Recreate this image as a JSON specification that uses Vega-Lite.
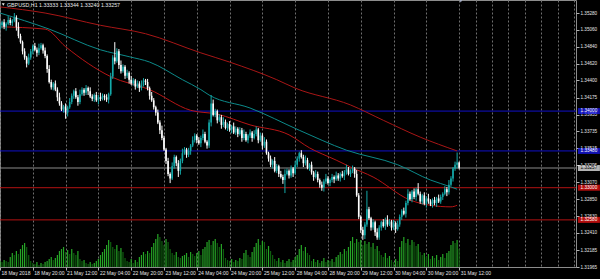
{
"$schema":"https://vega.github.io/schema/vega-lite/v6.json",
"width":576,"height":267,"autosize":"none",
"padding":{"left":0,"top":0,"right":24,"bottom":12},
"background":"#000000",
"config":{"view":{"stroke":"#8c8c8c","strokeWidth":1},"font":"Liberation Sans",
"axis":{"grid":true,"gridColor":"#6e6e6e","gridDash":[2,2],"gridWidth":1,"domain":false,"ticks":true,"tickSize":3,"tickColor":"#b0b0b0","labelColor":"#e6e6e6","labelFont":"Liberation Sans","labelBound":false,"labelOverlap":false,"labelFlush":false},
"axisX":{"labelFontSize":5,"labelAlign":"left","labelBaseline":"top","labelPadding":0,"labelOffset":1},
"axisY":{"labelFontSize":4.6,"labelPadding":1,"labelAlign":"left","labelBaseline":"middle"}},
"datasets":{
"bars":[
{"i":0,"o":1.3508,"h":1.3515,"l":1.3506,"c":1.3512,"v":600},
{"i":1,"o":1.3512,"h":1.3518,"l":1.3508,"c":1.3516,"v":500},
{"i":2,"o":1.3516,"h":1.3520,"l":1.3507,"c":1.3510,"v":700},
{"i":3,"o":1.3510,"h":1.3516,"l":1.3505,"c":1.3514,"v":600},
{"i":4,"o":1.3514,"h":1.3524,"l":1.3512,"c":1.3519,"v":500},
{"i":5,"o":1.3519,"h":1.3522,"l":1.3512,"c":1.3515,"v":1000},
{"i":6,"o":1.3515,"h":1.3520,"l":1.3511,"c":1.3518,"v":1400},
{"i":7,"o":1.3518,"h":1.3528,"l":1.3516,"c":1.3522,"v":1200},
{"i":8,"o":1.3522,"h":1.3525,"l":1.3505,"c":1.3510,"v":1600},
{"i":9,"o":1.3510,"h":1.3516,"l":1.3495,"c":1.3498,"v":1300},
{"i":10,"o":1.3498,"h":1.3501,"l":1.3488,"c":1.3490,"v":1800},
{"i":11,"o":1.3490,"h":1.3492,"l":1.3474,"c":1.3478,"v":2200},
{"i":12,"o":1.3478,"h":1.3482,"l":1.3467,"c":1.3470,"v":2400},
{"i":13,"o":1.3470,"h":1.3472,"l":1.3457,"c":1.3462,"v":2000},
{"i":14,"o":1.3462,"h":1.3475,"l":1.3460,"c":1.3470,"v":1200},
{"i":15,"o":1.3470,"h":1.3481,"l":1.3467,"c":1.3478,"v":600},
{"i":16,"o":1.3478,"h":1.3487,"l":1.3474,"c":1.3485,"v":400},
{"i":17,"o":1.3485,"h":1.3489,"l":1.3478,"c":1.3480,"v":300},
{"i":18,"o":1.3480,"h":1.3483,"l":1.3471,"c":1.3476,"v":500},
{"i":19,"o":1.3476,"h":1.3488,"l":1.3473,"c":1.3482,"v":200},
{"i":20,"o":1.3482,"h":1.3489,"l":1.3480,"c":1.3486,"v":400},
{"i":21,"o":1.3486,"h":1.3488,"l":1.3475,"c":1.3479,"v":300},
{"i":22,"o":1.3479,"h":1.3483,"l":1.3469,"c":1.3472,"v":500},
{"i":23,"o":1.3472,"h":1.3474,"l":1.3450,"c":1.3455,"v":600},
{"i":24,"o":1.3455,"h":1.3460,"l":1.3436,"c":1.3438,"v":800},
{"i":25,"o":1.3438,"h":1.3441,"l":1.3428,"c":1.3431,"v":1000},
{"i":26,"o":1.3431,"h":1.3438,"l":1.3427,"c":1.3436,"v":700},
{"i":27,"o":1.3436,"h":1.3440,"l":1.3426,"c":1.3428,"v":900},
{"i":28,"o":1.3428,"h":1.3431,"l":1.3413,"c":1.3418,"v":1200},
{"i":29,"o":1.3418,"h":1.3424,"l":1.3407,"c":1.3410,"v":1600},
{"i":30,"o":1.3410,"h":1.3413,"l":1.3400,"c":1.3402,"v":1800},
{"i":31,"o":1.3402,"h":1.3408,"l":1.3398,"c":1.3406,"v":2000},
{"i":32,"o":1.3406,"h":1.3410,"l":1.3390,"c":1.3398,"v":1500},
{"i":33,"o":1.3398,"h":1.3407,"l":1.3393,"c":1.3405,"v":1700},
{"i":34,"o":1.3405,"h":1.3417,"l":1.3403,"c":1.3412,"v":1300},
{"i":35,"o":1.3412,"h":1.3423,"l":1.3409,"c":1.3420,"v":1800},
{"i":36,"o":1.3420,"h":1.3428,"l":1.3416,"c":1.3426,"v":1400},
{"i":37,"o":1.3426,"h":1.3430,"l":1.3416,"c":1.3418,"v":1200},
{"i":38,"o":1.3418,"h":1.3421,"l":1.3407,"c":1.3412,"v":1600},
{"i":39,"o":1.3412,"h":1.3428,"l":1.3409,"c":1.3422,"v":800},
{"i":40,"o":1.3422,"h":1.3431,"l":1.3420,"c":1.3428,"v":600},
{"i":41,"o":1.3428,"h":1.3430,"l":1.3420,"c":1.3424,"v":700},
{"i":42,"o":1.3424,"h":1.3434,"l":1.3421,"c":1.3430,"v":400},
{"i":43,"o":1.3430,"h":1.3432,"l":1.3421,"c":1.3426,"v":300},
{"i":44,"o":1.3426,"h":1.3431,"l":1.3417,"c":1.3419,"v":500},
{"i":45,"o":1.3419,"h":1.3422,"l":1.3413,"c":1.3416,"v":300},
{"i":46,"o":1.3416,"h":1.3423,"l":1.3412,"c":1.3421,"v":400},
{"i":47,"o":1.3421,"h":1.3425,"l":1.3412,"c":1.3414,"v":600},
{"i":48,"o":1.3414,"h":1.3421,"l":1.3409,"c":1.3418,"v":800},
{"i":49,"o":1.3418,"h":1.3424,"l":1.3413,"c":1.3416,"v":1200},
{"i":50,"o":1.3416,"h":1.3423,"l":1.3414,"c":1.3420,"v":1500},
{"i":51,"o":1.3420,"h":1.3422,"l":1.3414,"c":1.3418,"v":1800},
{"i":52,"o":1.3418,"h":1.3422,"l":1.3412,"c":1.3415,"v":2200},
{"i":53,"o":1.3415,"h":1.3424,"l":1.3410,"c":1.3422,"v":2700},
{"i":54,"o":1.3422,"h":1.3450,"l":1.3420,"c":1.3445,"v":2500},
{"i":55,"o":1.3445,"h":1.3473,"l":1.3442,"c":1.3470,"v":2000},
{"i":56,"o":1.3470,"h":1.3490,"l":1.3461,"c":1.3465,"v":1800},
{"i":57,"o":1.3465,"h":1.3482,"l":1.3463,"c":1.3478,"v":2200},
{"i":58,"o":1.3478,"h":1.3481,"l":1.3455,"c":1.3460,"v":1600},
{"i":59,"o":1.3460,"h":1.3466,"l":1.3449,"c":1.3452,"v":1900},
{"i":60,"o":1.3452,"h":1.3461,"l":1.3450,"c":1.3458,"v":1500},
{"i":61,"o":1.3458,"h":1.3460,"l":1.3442,"c":1.3446,"v":900},
{"i":62,"o":1.3446,"h":1.3454,"l":1.3443,"c":1.3450,"v":600},
{"i":63,"o":1.3450,"h":1.3452,"l":1.3436,"c":1.3441,"v":500},
{"i":64,"o":1.3441,"h":1.3446,"l":1.3434,"c":1.3436,"v":800},
{"i":65,"o":1.3436,"h":1.3443,"l":1.3433,"c":1.3440,"v":400},
{"i":66,"o":1.3440,"h":1.3442,"l":1.3428,"c":1.3432,"v":700},
{"i":67,"o":1.3432,"h":1.3440,"l":1.3430,"c":1.3436,"v":500},
{"i":68,"o":1.3436,"h":1.3439,"l":1.3425,"c":1.3430,"v":1000},
{"i":69,"o":1.3430,"h":1.3440,"l":1.3427,"c":1.3434,"v":1200},
{"i":70,"o":1.3434,"h":1.3443,"l":1.3432,"c":1.3440,"v":1500},
{"i":71,"o":1.3440,"h":1.3442,"l":1.3434,"c":1.3438,"v":1300},
{"i":72,"o":1.3438,"h":1.3442,"l":1.3427,"c":1.3430,"v":1600},
{"i":73,"o":1.3430,"h":1.3432,"l":1.3415,"c":1.3420,"v":1400},
{"i":74,"o":1.3420,"h":1.3425,"l":1.3412,"c":1.3414,"v":2000},
{"i":75,"o":1.3414,"h":1.3417,"l":1.3402,"c":1.3405,"v":2400},
{"i":76,"o":1.3405,"h":1.3407,"l":1.3394,"c":1.3398,"v":2800},
{"i":77,"o":1.3398,"h":1.3402,"l":1.3383,"c":1.3385,"v":3300},
{"i":78,"o":1.3385,"h":1.3388,"l":1.3370,"c":1.3375,"v":3000},
{"i":79,"o":1.3375,"h":1.3381,"l":1.3362,"c":1.3365,"v":2600},
{"i":80,"o":1.3365,"h":1.3368,"l":1.3348,"c":1.3350,"v":2200},
{"i":81,"o":1.3350,"h":1.3352,"l":1.3331,"c":1.3335,"v":2800},
{"i":82,"o":1.3335,"h":1.3339,"l":1.3315,"c":1.3318,"v":2500},
{"i":83,"o":1.3318,"h":1.3320,"l":1.3306,"c":1.3312,"v":1800},
{"i":84,"o":1.3312,"h":1.3333,"l":1.3310,"c":1.3328,"v":1400},
{"i":85,"o":1.3328,"h":1.3343,"l":1.3325,"c":1.3340,"v":1200},
{"i":86,"o":1.3340,"h":1.3342,"l":1.3328,"c":1.3332,"v":1500},
{"i":87,"o":1.3332,"h":1.3336,"l":1.3314,"c":1.3322,"v":1000},
{"i":88,"o":1.3322,"h":1.3338,"l":1.3317,"c":1.3335,"v":900},
{"i":89,"o":1.3335,"h":1.3351,"l":1.3332,"c":1.3345,"v":1100},
{"i":90,"o":1.3345,"h":1.3353,"l":1.3343,"c":1.3350,"v":1200},
{"i":91,"o":1.3350,"h":1.3352,"l":1.3339,"c":1.3343,"v":1400},
{"i":92,"o":1.3343,"h":1.3352,"l":1.3340,"c":1.3348,"v":1000},
{"i":93,"o":1.3348,"h":1.3357,"l":1.3343,"c":1.3355,"v":1500},
{"i":94,"o":1.3355,"h":1.3367,"l":1.3353,"c":1.3362,"v":1300},
{"i":95,"o":1.3362,"h":1.3371,"l":1.3359,"c":1.3368,"v":1100},
{"i":96,"o":1.3368,"h":1.3370,"l":1.3358,"c":1.3362,"v":1400},
{"i":97,"o":1.3362,"h":1.3366,"l":1.3356,"c":1.3358,"v":1600},
{"i":98,"o":1.3358,"h":1.3368,"l":1.3353,"c":1.3365,"v":1200},
{"i":99,"o":1.3365,"h":1.3376,"l":1.3362,"c":1.3370,"v":1800},
{"i":100,"o":1.3370,"h":1.3373,"l":1.3358,"c":1.3360,"v":2000},
{"i":101,"o":1.3360,"h":1.3362,"l":1.3351,"c":1.3355,"v":2500},
{"i":102,"o":1.3355,"h":1.3389,"l":1.3352,"c":1.3385,"v":2700},
{"i":103,"o":1.3385,"h":1.3421,"l":1.3380,"c":1.3410,"v":2200},
{"i":104,"o":1.3410,"h":1.3415,"l":1.3393,"c":1.3395,"v":2600},
{"i":105,"o":1.3395,"h":1.3403,"l":1.3392,"c":1.3400,"v":2800},
{"i":106,"o":1.3400,"h":1.3402,"l":1.3384,"c":1.3388,"v":2400},
{"i":107,"o":1.3388,"h":1.3396,"l":1.3386,"c":1.3392,"v":2000},
{"i":108,"o":1.3392,"h":1.3395,"l":1.3377,"c":1.3382,"v":2300},
{"i":109,"o":1.3382,"h":1.3392,"l":1.3379,"c":1.3386,"v":1800},
{"i":110,"o":1.3386,"h":1.3389,"l":1.3376,"c":1.3378,"v":900},
{"i":111,"o":1.3378,"h":1.3385,"l":1.3374,"c":1.3383,"v":700},
{"i":112,"o":1.3383,"h":1.3387,"l":1.3373,"c":1.3376,"v":600},
{"i":113,"o":1.3376,"h":1.3382,"l":1.3371,"c":1.3380,"v":800},
{"i":114,"o":1.3380,"h":1.3385,"l":1.3370,"c":1.3372,"v":500},
{"i":115,"o":1.3372,"h":1.3380,"l":1.3369,"c":1.3377,"v":700},
{"i":116,"o":1.3377,"h":1.3379,"l":1.3366,"c":1.3370,"v":600},
{"i":117,"o":1.3370,"h":1.3379,"l":1.3368,"c":1.3375,"v":900},
{"i":118,"o":1.3375,"h":1.3378,"l":1.3360,"c":1.3365,"v":800},
{"i":119,"o":1.3365,"h":1.3376,"l":1.3362,"c":1.3370,"v":1400},
{"i":120,"o":1.3370,"h":1.3373,"l":1.3360,"c":1.3362,"v":1700},
{"i":121,"o":1.3362,"h":1.3370,"l":1.3358,"c":1.3368,"v":1200},
{"i":122,"o":1.3368,"h":1.3376,"l":1.3365,"c":1.3372,"v":1000},
{"i":123,"o":1.3372,"h":1.3374,"l":1.3360,"c":1.3365,"v":1500},
{"i":124,"o":1.3365,"h":1.3375,"l":1.3363,"c":1.3370,"v":2000},
{"i":125,"o":1.3370,"h":1.3380,"l":1.3367,"c":1.3376,"v":2400},
{"i":126,"o":1.3376,"h":1.3378,"l":1.3358,"c":1.3362,"v":2800},
{"i":127,"o":1.3362,"h":1.3372,"l":1.3360,"c":1.3368,"v":2200},
{"i":128,"o":1.3368,"h":1.3371,"l":1.3350,"c":1.3355,"v":2600},
{"i":129,"o":1.3355,"h":1.3366,"l":1.3352,"c":1.3360,"v":2500},
{"i":130,"o":1.3360,"h":1.3363,"l":1.3343,"c":1.3345,"v":1800},
{"i":131,"o":1.3345,"h":1.3347,"l":1.3334,"c":1.3338,"v":2100},
{"i":132,"o":1.3338,"h":1.3342,"l":1.3327,"c":1.3330,"v":1600},
{"i":133,"o":1.3330,"h":1.3337,"l":1.3325,"c":1.3335,"v":1200},
{"i":134,"o":1.3335,"h":1.3340,"l":1.3320,"c":1.3322,"v":800},
{"i":135,"o":1.3322,"h":1.3331,"l":1.3319,"c":1.3328,"v":600},
{"i":136,"o":1.3328,"h":1.3330,"l":1.3314,"c":1.3318,"v":900},
{"i":137,"o":1.3318,"h":1.3322,"l":1.3312,"c":1.3314,"v":500},
{"i":138,"o":1.3314,"h":1.3317,"l":1.3305,"c":1.3310,"v":700},
{"i":139,"o":1.3310,"h":1.3324,"l":1.3293,"c":1.3318,"v":400},
{"i":140,"o":1.3318,"h":1.3325,"l":1.3316,"c":1.3322,"v":600},
{"i":141,"o":1.3322,"h":1.3324,"l":1.3312,"c":1.3316,"v":800},
{"i":142,"o":1.3316,"h":1.3329,"l":1.3313,"c":1.3325,"v":500},
{"i":143,"o":1.3325,"h":1.3327,"l":1.3314,"c":1.3319,"v":700},
{"i":144,"o":1.3319,"h":1.3335,"l":1.3317,"c":1.3330,"v":1000},
{"i":145,"o":1.3330,"h":1.3341,"l":1.3327,"c":1.3338,"v":1200},
{"i":146,"o":1.3338,"h":1.3347,"l":1.3334,"c":1.3345,"v":1800},
{"i":147,"o":1.3345,"h":1.3349,"l":1.3338,"c":1.3340,"v":2200},
{"i":148,"o":1.3340,"h":1.3343,"l":1.3327,"c":1.3332,"v":1600},
{"i":149,"o":1.3332,"h":1.3342,"l":1.3329,"c":1.3336,"v":2000},
{"i":150,"o":1.3336,"h":1.3339,"l":1.3324,"c":1.3326,"v":1400},
{"i":151,"o":1.3326,"h":1.3332,"l":1.3322,"c":1.3330,"v":1200},
{"i":152,"o":1.3330,"h":1.3334,"l":1.3317,"c":1.3320,"v":600},
{"i":153,"o":1.3320,"h":1.3322,"l":1.3309,"c":1.3314,"v":800},
{"i":154,"o":1.3314,"h":1.3323,"l":1.3312,"c":1.3318,"v":500},
{"i":155,"o":1.3318,"h":1.3321,"l":1.3307,"c":1.3310,"v":700},
{"i":156,"o":1.3310,"h":1.3312,"l":1.3300,"c":1.3304,"v":400},
{"i":157,"o":1.3304,"h":1.3308,"l":1.3296,"c":1.3300,"v":600},
{"i":158,"o":1.3300,"h":1.3311,"l":1.3295,"c":1.3308,"v":900},
{"i":159,"o":1.3308,"h":1.3318,"l":1.3305,"c":1.3312,"v":500},
{"i":160,"o":1.3312,"h":1.3315,"l":1.3304,"c":1.3306,"v":700},
{"i":161,"o":1.3306,"h":1.3312,"l":1.3302,"c":1.3310,"v":600},
{"i":162,"o":1.3310,"h":1.3318,"l":1.3307,"c":1.3314,"v":800},
{"i":163,"o":1.3314,"h":1.3316,"l":1.3306,"c":1.3311,"v":500},
{"i":164,"o":1.3311,"h":1.3321,"l":1.3309,"c":1.3316,"v":1000},
{"i":165,"o":1.3316,"h":1.3319,"l":1.3309,"c":1.3312,"v":1200},
{"i":166,"o":1.3312,"h":1.3320,"l":1.3308,"c":1.3318,"v":1500},
{"i":167,"o":1.3318,"h":1.3322,"l":1.3313,"c":1.3315,"v":1300},
{"i":168,"o":1.3315,"h":1.3323,"l":1.3310,"c":1.3320,"v":1800},
{"i":169,"o":1.3320,"h":1.3330,"l":1.3317,"c":1.3324,"v":1600},
{"i":170,"o":1.3324,"h":1.3327,"l":1.3316,"c":1.3318,"v":2000},
{"i":171,"o":1.3318,"h":1.3324,"l":1.3314,"c":1.3322,"v":2600},
{"i":172,"o":1.3322,"h":1.3329,"l":1.3319,"c":1.3325,"v":3000},
{"i":173,"o":1.3325,"h":1.3327,"l":1.3313,"c":1.3318,"v":2400},
{"i":174,"o":1.3318,"h":1.3323,"l":1.3288,"c":1.3290,"v":2800},
{"i":175,"o":1.3290,"h":1.3293,"l":1.3259,"c":1.3262,"v":2500},
{"i":176,"o":1.3262,"h":1.3264,"l":1.3241,"c":1.3245,"v":2700},
{"i":177,"o":1.3245,"h":1.3249,"l":1.3232,"c":1.3238,"v":2200},
{"i":178,"o":1.3238,"h":1.3255,"l":1.3233,"c":1.3252,"v":2600},
{"i":179,"o":1.3252,"h":1.3296,"l":1.3249,"c":1.3272,"v":2300},
{"i":180,"o":1.3272,"h":1.3275,"l":1.3258,"c":1.3260,"v":2500},
{"i":181,"o":1.3260,"h":1.3262,"l":1.3244,"c":1.3248,"v":2000},
{"i":182,"o":1.3248,"h":1.3259,"l":1.3245,"c":1.3255,"v":2400},
{"i":183,"o":1.3255,"h":1.3257,"l":1.3237,"c":1.3242,"v":1800},
{"i":184,"o":1.3242,"h":1.3247,"l":1.3232,"c":1.3235,"v":2100},
{"i":185,"o":1.3235,"h":1.3251,"l":1.3232,"c":1.3248,"v":1600},
{"i":186,"o":1.3248,"h":1.3257,"l":1.3244,"c":1.3255,"v":1200},
{"i":187,"o":1.3255,"h":1.3259,"l":1.3248,"c":1.3250,"v":1000},
{"i":188,"o":1.3250,"h":1.3261,"l":1.3245,"c":1.3258,"v":1400},
{"i":189,"o":1.3258,"h":1.3264,"l":1.3249,"c":1.3252,"v":900},
{"i":190,"o":1.3252,"h":1.3259,"l":1.3250,"c":1.3256,"v":1100},
{"i":191,"o":1.3256,"h":1.3258,"l":1.3244,"c":1.3248,"v":700},
{"i":192,"o":1.3248,"h":1.3258,"l":1.3245,"c":1.3254,"v":500},
{"i":193,"o":1.3254,"h":1.3256,"l":1.3241,"c":1.3246,"v":800},
{"i":194,"o":1.3246,"h":1.3257,"l":1.3244,"c":1.3252,"v":600},
{"i":195,"o":1.3252,"h":1.3265,"l":1.3249,"c":1.3262,"v":2000},
{"i":196,"o":1.3262,"h":1.3272,"l":1.3258,"c":1.3270,"v":2600},
{"i":197,"o":1.3270,"h":1.3274,"l":1.3264,"c":1.3266,"v":3000},
{"i":198,"o":1.3266,"h":1.3283,"l":1.3261,"c":1.3280,"v":2400},
{"i":199,"o":1.3280,"h":1.3298,"l":1.3277,"c":1.3292,"v":2800},
{"i":200,"o":1.3292,"h":1.3295,"l":1.3283,"c":1.3285,"v":2200},
{"i":201,"o":1.3285,"h":1.3297,"l":1.3281,"c":1.3295,"v":2700},
{"i":202,"o":1.3295,"h":1.3299,"l":1.3285,"c":1.3288,"v":2500},
{"i":203,"o":1.3288,"h":1.3300,"l":1.3283,"c":1.3298,"v":2100},
{"i":204,"o":1.3298,"h":1.3306,"l":1.3290,"c":1.3292,"v":2300},
{"i":205,"o":1.3292,"h":1.3295,"l":1.3279,"c":1.3282,"v":1500},
{"i":206,"o":1.3282,"h":1.3292,"l":1.3278,"c":1.3290,"v":1200},
{"i":207,"o":1.3290,"h":1.3294,"l":1.3277,"c":1.3279,"v":1400},
{"i":208,"o":1.3279,"h":1.3289,"l":1.3274,"c":1.3286,"v":1000},
{"i":209,"o":1.3286,"h":1.3292,"l":1.3279,"c":1.3282,"v":1300},
{"i":210,"o":1.3282,"h":1.3285,"l":1.3276,"c":1.3278,"v":800},
{"i":211,"o":1.3278,"h":1.3286,"l":1.3274,"c":1.3284,"v":1100},
{"i":212,"o":1.3284,"h":1.3288,"l":1.3277,"c":1.3280,"v":900},
{"i":213,"o":1.3280,"h":1.3288,"l":1.3275,"c":1.3286,"v":1200},
{"i":214,"o":1.3286,"h":1.3291,"l":1.3280,"c":1.3282,"v":700},
{"i":215,"o":1.3282,"h":1.3291,"l":1.3279,"c":1.3288,"v":1000},
{"i":216,"o":1.3288,"h":1.3294,"l":1.3284,"c":1.3292,"v":1300},
{"i":217,"o":1.3292,"h":1.3302,"l":1.3290,"c":1.3298,"v":900},
{"i":218,"o":1.3298,"h":1.3301,"l":1.3289,"c":1.3294,"v":1400},
{"i":219,"o":1.3294,"h":1.3310,"l":1.3291,"c":1.3304,"v":1600},
{"i":220,"o":1.3304,"h":1.3315,"l":1.3302,"c":1.3312,"v":2200},
{"i":221,"o":1.3312,"h":1.3327,"l":1.3308,"c":1.3325,"v":2600},
{"i":222,"o":1.3325,"h":1.3334,"l":1.3322,"c":1.3330,"v":2400},
{"i":223,"o":1.3330,"h":1.3346,"l":1.3325,"c":1.3333,"v":2700},
{"i":224,"o":1.3333,"h":1.3334,"l":1.3324,"c":1.3326,"v":1800}
],
"ma":[
{"s":"slow","i":0,"p":1.3536},{"s":"slow","i":22,"p":1.3528},{"s":"slow","i":49,"p":1.3512},{"s":"slow","i":71,"p":1.3501},{"s":"slow","i":98,"p":1.3476},{"s":"slow","i":112,"p":1.3464},{"s":"slow","i":135,"p":1.3441},{"s":"slow","i":144,"p":1.3430},{"s":"slow","i":171,"p":1.3408},{"s":"slow","i":187,"p":1.3388},{"s":"slow","i":205,"p":1.3366},{"s":"slow","i":223,"p":1.3348},
{"s":"mid","i":0,"p":1.3528},{"s":"mid","i":24,"p":1.3507},{"s":"mid","i":49,"p":1.3480},{"s":"mid","i":63,"p":1.3471},{"s":"mid","i":73,"p":1.3464},{"s":"mid","i":89,"p":1.3441},{"s":"mid","i":98,"p":1.3428},{"s":"mid","i":102,"p":1.3421},{"s":"mid","i":122,"p":1.3404},{"s":"mid","i":146,"p":1.3375},{"s":"mid","i":169,"p":1.3349},{"s":"mid","i":194,"p":1.3330},{"s":"mid","i":210,"p":1.3310},{"s":"mid","i":220,"p":1.3301},{"s":"mid","i":223,"p":1.3298},
{"s":"fast","i":0,"p":1.3510},{"s":"fast","i":22,"p":1.3507},{"s":"fast","i":32,"p":1.3484},{"s":"fast","i":54,"p":1.3445},{"s":"fast","i":73,"p":1.3428},{"s":"fast","i":93,"p":1.3401},{"s":"fast","i":106,"p":1.3396},{"s":"fast","i":122,"p":1.3382},{"s":"fast","i":141,"p":1.3369},{"s":"fast","i":151,"p":1.3352},{"s":"fast","i":164,"p":1.3336},{"s":"fast","i":171,"p":1.3327},{"s":"fast","i":182,"p":1.3314},{"s":"fast","i":200,"p":1.3284},{"s":"fast","i":210,"p":1.3277},{"s":"fast","i":220,"p":1.3275},{"s":"fast","i":223,"p":1.3277}
],
"lvl":[
{"p":1.34000,"k":"b"},{"p":1.33480,"k":"b"},{"p":1.33000,"k":"r"},{"p":1.32580,"k":"r"},{"p":1.33257,"k":"g"}
]
},
"layer":[
{
"data":{"name":"bars"},
"transform":[{"window":[{"op":"lag","field":"v","as":"pv"}],"sort":[{"field":"i"}]}],
"mark":{"type":"rule","strokeWidth":1.2},
"encoding":{
"x":{"field":"i","type":"quantitative","scale":{"domain":[0,281]},"title":null,
"axis":{"orient":"bottom","values":[0,16,32,48,64,80,96,112,128,144,160,176,192,208,224,232,240,248,256,264,272,280],
"labelExpr":"datum.value <= 224 ? ['18 May 2018','18 May 20:00','21 May 12:00','22 May 04:00','22 May 20:00','23 May 12:00','24 May 04:00','24 May 20:00','25 May 12:00','28 May 04:00','28 May 20:00','29 May 12:00','30 May 04:00','30 May 20:00','31 May 12:00'][datum.value/16] : ''",
"tickOpacity":{"condition":{"test":"datum.value <= 224","value":1},"value":0},
"labelOverlap":false,"title":null}},
"y":{"field":"v","type":"quantitative","scale":{"domain":[0,26700]},"axis":null},
"y2":{"datum":0},
"color":{"condition":{"test":"datum.v >= datum.pv","value":"#26a626"},"value":"#0f5e0f"}
}
},
{
"data":{"name":"lvl"},
"mark":{"type":"rule","strokeWidth":1},
"encoding":{
"x":{"datum":0,"type":"quantitative","scale":{"domain":[0,281]},"title":null,"axis":null},
"x2":{"datum":281},
"y":{"field":"p","type":"quantitative","scale":{"domain":[1.31965,1.3545],"zero":false,"nice":false},"title":null,
"axis":{"orient":"right","values":[1.35280,1.35060,1.34840,1.34620,1.34400,1.34175,1.33955,1.33735,1.33515,1.33295,1.33070,1.32850,1.32630,1.32410,1.32185,1.31965],
"format":".5f","labelOverlap":false,"title":null}},
"color":{"condition":[{"test":"datum.k == 'b'","value":"#1010c8"},{"test":"datum.k == 'r'","value":"#b41212"}],"value":"#8a8a8a"}
}
},
{
"layer":[
{
"data":{"name":"ma"},
"mark":{"type":"line","strokeWidth":1,"interpolate":"monotone"},
"encoding":{
"x":{"field":"i","type":"quantitative","scale":{"domain":[0,281]},"title":null,"axis":null},
"y":{"field":"p","type":"quantitative","scale":{"domain":[1.31965,1.3545],"zero":false,"nice":false},"title":null,"axis":null},
"detail":{"field":"s"},
"color":{"condition":[{"test":"datum.s == 'mid'","value":"#0c8a8a"},{"test":"datum.s == 'slow'","value":"#a81616"}],"value":"#b81515"}
}
},
{
"data":{"name":"bars"},
"mark":{"type":"rule","strokeWidth":1},
"encoding":{
"x":{"field":"i","type":"quantitative","scale":{"domain":[0,281]},"title":null,"axis":null},
"y":{"field":"l","type":"quantitative","title":null,"axis":null},
"y2":{"field":"h"},
"color":{"condition":{"test":"datum.c >= datum.o","value":"#14a8a8"},"value":"#ffffff"}
}
},
{
"data":{"name":"bars"},
"mark":{"type":"rule","strokeWidth":1.6},
"encoding":{
"x":{"field":"i","type":"quantitative","scale":{"domain":[0,281]},"title":null,"axis":null},
"y":{"field":"o","type":"quantitative","title":null,"axis":null},
"y2":{"field":"c"},
"color":{"condition":{"test":"datum.c >= datum.o","value":"#14a8a8"},"value":"#ffffff"}
}
},
{
"data":{"name":"lvl"},
"mark":{"type":"tick","orient":"horizontal","size":22,"thickness":6},
"encoding":{
"x":{"datum":287.3,"type":"quantitative","scale":{"domain":[0,281]},"title":null,"axis":null},
"y":{"field":"p","type":"quantitative","title":null,"axis":null},
"color":{"condition":[{"test":"datum.k == 'b'","value":"#1a1aff"},{"test":"datum.k == 'r'","value":"#ff1212"}],"value":"#ffffff"}
}
},
{
"data":{"name":"lvl"},
"mark":{"type":"text","fontSize":4.6,"font":"Liberation Sans","align":"center","baseline":"middle"},
"encoding":{
"x":{"datum":287.3,"type":"quantitative","scale":{"domain":[0,281]},"title":null,"axis":null},
"y":{"field":"p","type":"quantitative","title":null,"axis":null},
"text":{"field":"p","type":"quantitative","format":".5f"},
"color":{"condition":{"test":"datum.k == 'g'","value":"#000000"},"value":"#ffffff"}
}
},
{
"data":{"values":[{"t":"GBPUSD,H1  1.33333 1.33344 1.33240 1.33257"}]},
"mark":{"type":"text","fontSize":5.3,"font":"Liberation Sans","align":"left","baseline":"middle","color":"#e8e8e8"},
"encoding":{
"x":{"datum":3.4,"type":"quantitative","scale":{"domain":[0,281]},"title":null,"axis":null},
"y":{"datum":1.35391,"type":"quantitative","title":null,"axis":null},
"text":{"field":"t"}
}
},
{
"data":{"values":[{"m":"menu","i":1.6,"p":1.35391},{"m":"shift","i":224.8,"p":1.35435}]},
"mark":{"type":"point","shape":"triangle-down","filled":true,"size":9,"opacity":1},
"encoding":{
"x":{"field":"i","type":"quantitative","scale":{"domain":[0,281]},"title":null,"axis":null},
"y":{"field":"p","type":"quantitative","title":null,"axis":null},
"color":{"condition":{"test":"datum.m == 'menu'","value":"#e8e8e8"},"value":"#a8b0c8"}
}
}
]
}
],
"resolve":{"scale":{"x":"independent","y":"independent"}}
}
